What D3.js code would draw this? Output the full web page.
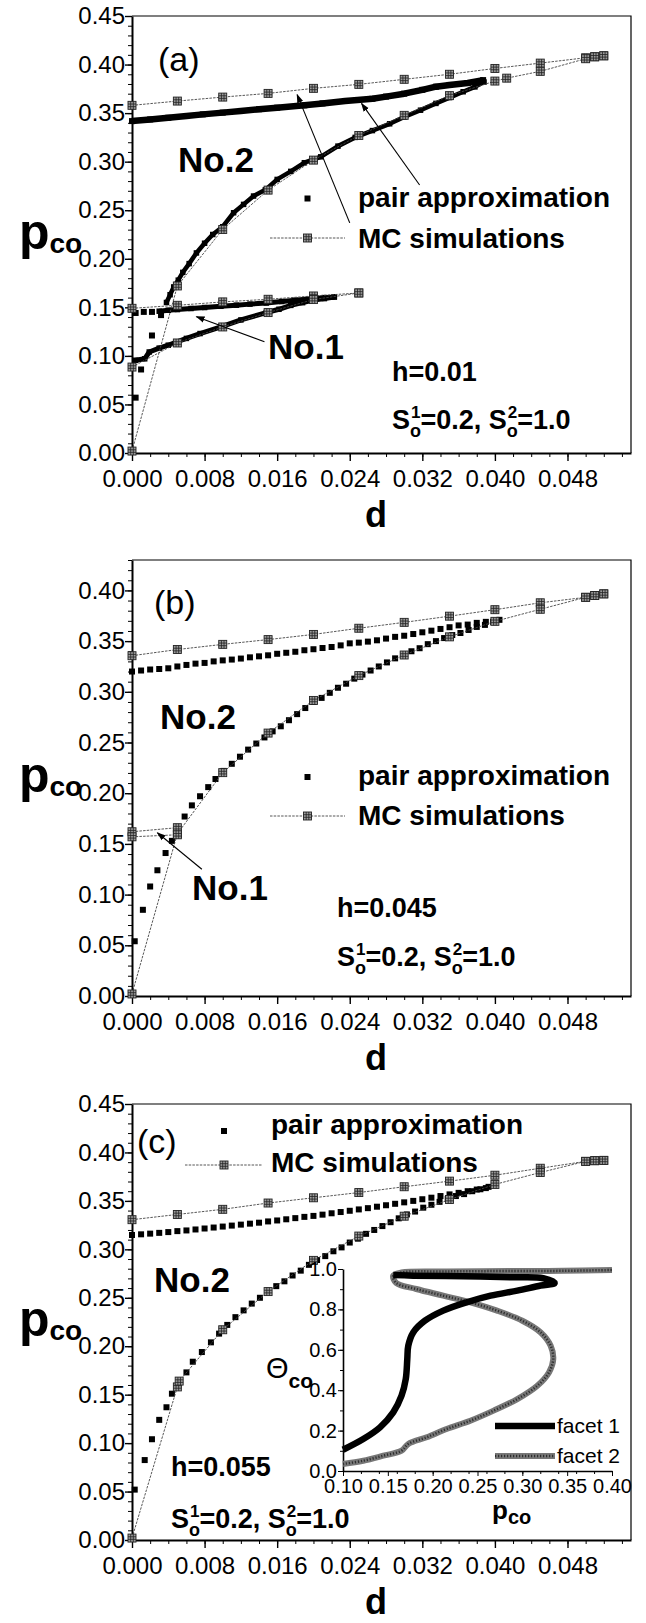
<!DOCTYPE html>
<html>
<head>
<meta charset="utf-8">
<script src="https://cdn.jsdelivr.net/npm/d3@7"></script>
<style>
  body { margin: 0; background: #fff; }
</style>
</head>
<body>
<div id="chart"></div>
<script>
// ---------- data ----------
// x axis (d) and y axis (p_co) tick labels
var dTicks = [0, 0.008, 0.016, 0.024, 0.032, 0.040, 0.048];
var pTicks45 = [0, 0.05, 0.10, 0.15, 0.20, 0.25, 0.30, 0.35, 0.40, 0.45];
var pTicks40 = [0, 0.05, 0.10, 0.15, 0.20, 0.25, 0.30, 0.35, 0.40];

// panel (a), h=0.01
var aMcUpper = [[0,0.358],[0.005,0.3624],[0.010,0.3665],[0.015,0.3703],[0.020,0.3755],[0.025,0.3796],[0.030,0.3848],[0.035,0.390],[0.040,0.396],[0.045,0.4015],[0.050,0.407],[0.051,0.408],[0.052,0.409]];
var aMcLower = [[0,0.002],[0.005,0.172],[0.010,0.2302],[0.015,0.2707],[0.020,0.3016],[0.025,0.327],[0.030,0.3477],[0.035,0.368],[0.040,0.383],[0.0413,0.386],[0.045,0.393],[0.050,0.406],[0.051,0.408],[0.052,0.409]];
var aMcNo1Upper = [[0,0.149],[0.005,0.1521],[0.010,0.1556],[0.015,0.1583],[0.020,0.1617],[0.025,0.1648]];
var aMcNo1Lower = [[0,0.0885],[0.005,0.1133],[0.010,0.1298],[0.015,0.1446],[0.020,0.158],[0.025,0.1648]];
var aPairUpper = [[0,0.3418],[0.002,0.3435],[0.004,0.3452],[0.006,0.347],[0.0078,0.3487],[0.010,0.3505],[0.012,0.3522],[0.014,0.354],[0.016,0.3556],[0.019,0.358],[0.021,0.360],[0.0235,0.3625],[0.0265,0.3648],[0.028,0.367],[0.030,0.370],[0.032,0.374],[0.0335,0.3772],[0.035,0.379],[0.037,0.381],[0.0387,0.384]];
var aPairLower = [[0.0004,0.057],[0.001,0.086],[0.0022,0.121],[0.0032,0.142],[0.0038,0.155],[0.0042,0.163],[0.0046,0.171],[0.0051,0.178],[0.0056,0.186],[0.0063,0.195],[0.0071,0.206],[0.008,0.216],[0.0089,0.225],[0.010,0.233],[0.0112,0.2474],[0.0123,0.256],[0.0134,0.2646],[0.0147,0.271],[0.016,0.2817],[0.0175,0.290],[0.019,0.2989],[0.0208,0.305],[0.0227,0.316],[0.0246,0.325],[0.0265,0.332],[0.0284,0.339],[0.030,0.346],[0.0318,0.353],[0.0335,0.360],[0.035,0.366],[0.0365,0.372],[0.0378,0.377],[0.0388,0.382]];
var aPairNo1Upper = [[0.0004,0.1442],[0.0013,0.1453],[0.0022,0.1453],[0.003,0.146],[0.004,0.147],[0.005,0.1477],[0.0065,0.1488],[0.008,0.1498],[0.0098,0.1511],[0.0115,0.1522],[0.013,0.1533],[0.0148,0.1545],[0.0165,0.156],[0.018,0.1573],[0.0199,0.159],[0.0212,0.160],[0.0223,0.1607]];
var aPairNo1Lower = [[0.0004,0.0955],[0.0014,0.097],[0.0019,0.104],[0.003,0.108],[0.004,0.111],[0.0049,0.1143],[0.006,0.118],[0.0075,0.123],[0.0098,0.130],[0.012,0.137],[0.0148,0.1446],[0.0162,0.148],[0.0175,0.152],[0.0188,0.1548],[0.0199,0.1573],[0.0212,0.159],[0.0223,0.1607]];
var aArrows = [[[0.024,0.237],[0.0182,0.369]],[[0.0317,0.276],[0.0253,0.360]],[[0.0146,0.1146],[0.0071,0.1404]]];

// panel (b), h=0.045
var bMcUpper = [[0,0.3356],[0.005,0.3417],[0.010,0.3468],[0.015,0.3515],[0.020,0.3566],[0.025,0.3627],[0.030,0.3685],[0.035,0.3746],[0.040,0.381],[0.045,0.3878],[0.050,0.3932],[0.051,0.395],[0.052,0.3966]];
var bMcLower = [[0,0.002],[0.005,0.160],[0.010,0.2203],[0.015,0.2593],[0.020,0.2915],[0.025,0.316],[0.030,0.3363],[0.035,0.3542],[0.040,0.3695],[0.045,0.3814],[0.050,0.3932],[0.051,0.395],[0.052,0.3966]];
var bMcNo1Upper = [[0,0.162],[0.005,0.166]];
var bMcNo1Lower = [[0,0.157],[0.005,0.159]];
var bPairUpper = [[0,0.320],[0.001,0.321],[0.002,0.322],[0.003,0.3225],[0.004,0.3232],[0.005,0.325],[0.006,0.3265],[0.007,0.3278],[0.008,0.3285],[0.009,0.330],[0.010,0.331],[0.011,0.3318],[0.012,0.3328],[0.013,0.334],[0.014,0.335],[0.015,0.336],[0.016,0.3375],[0.017,0.3385],[0.018,0.3395],[0.019,0.341],[0.020,0.342],[0.021,0.3432],[0.022,0.3442],[0.023,0.3458],[0.024,0.3478],[0.025,0.3485],[0.026,0.3495],[0.027,0.3508],[0.028,0.3525],[0.029,0.3542],[0.030,0.3553],[0.031,0.357],[0.032,0.3587],[0.033,0.3603],[0.034,0.362],[0.035,0.3637],[0.036,0.3655],[0.037,0.3663],[0.038,0.368],[0.039,0.369],[0.040,0.370]];
var bPairLower = [[0.0003,0.054],[0.0012,0.085],[0.002,0.108],[0.0028,0.124],[0.0037,0.141],[0.0044,0.153],[0.005,0.164],[0.0058,0.177],[0.0066,0.188],[0.0075,0.197],[0.0084,0.206],[0.0092,0.214],[0.0101,0.222],[0.011,0.229],[0.0119,0.236],[0.0128,0.243],[0.0137,0.249],[0.0146,0.255],[0.0155,0.261],[0.0164,0.266],[0.0173,0.272],[0.0182,0.278],[0.0191,0.284],[0.020,0.290],[0.0209,0.294],[0.0218,0.299],[0.0227,0.304],[0.0236,0.308],[0.0245,0.313],[0.0254,0.317],[0.0263,0.321],[0.0272,0.325],[0.0281,0.329],[0.029,0.333],[0.0299,0.336],[0.0308,0.340],[0.0317,0.343],[0.0326,0.347],[0.0335,0.350],[0.0344,0.353],[0.0353,0.356],[0.0362,0.358],[0.0371,0.361],[0.038,0.364],[0.0389,0.366],[0.0398,0.369],[0.0405,0.371]];
var bArrows = [[[0.0077,0.125],[0.0028,0.161]]];

// panel (c), h=0.055
var cMcUpper = [[0,0.3306],[0.005,0.336],[0.010,0.3413],[0.015,0.3478],[0.020,0.3532],[0.025,0.3586],[0.030,0.3646],[0.035,0.3704],[0.040,0.3765],[0.045,0.3837],[0.050,0.3908],[0.051,0.3915],[0.052,0.3918]];
var cMcLower = [[0,0.002],[0.005,0.158],[0.0052,0.164],[0.010,0.217],[0.015,0.2564],[0.020,0.2886],[0.025,0.3137],[0.030,0.3342],[0.035,0.3514],[0.040,0.367],[0.045,0.3793],[0.050,0.3908],[0.051,0.3915],[0.052,0.3918]];
var cPairUpper = [[0,0.3148],[0.001,0.3155],[0.002,0.3162],[0.003,0.317],[0.004,0.3178],[0.005,0.3188],[0.006,0.3195],[0.007,0.3205],[0.008,0.3215],[0.009,0.3225],[0.010,0.3235],[0.011,0.3245],[0.012,0.3255],[0.013,0.3265],[0.014,0.3275],[0.015,0.3288],[0.016,0.3298],[0.017,0.331],[0.018,0.3322],[0.019,0.3335],[0.020,0.3345],[0.021,0.3358],[0.022,0.3372],[0.023,0.3385],[0.024,0.3398],[0.025,0.3412],[0.026,0.3425],[0.027,0.344],[0.028,0.3455],[0.029,0.347],[0.030,0.3485],[0.031,0.350],[0.032,0.3517],[0.033,0.3533],[0.034,0.355],[0.035,0.3567],[0.036,0.3583],[0.037,0.360],[0.038,0.3617],[0.039,0.3632]];
var cPairLower = [[0.0003,0.052],[0.0014,0.0825],[0.0022,0.104],[0.003,0.124],[0.0038,0.137],[0.0044,0.151],[0.0051,0.160],[0.006,0.173],[0.0067,0.184],[0.0077,0.194],[0.0087,0.204],[0.0096,0.213],[0.0105,0.222],[0.0114,0.230],[0.0123,0.237],[0.0132,0.244],[0.0141,0.250],[0.015,0.256],[0.0159,0.262],[0.0168,0.267],[0.0177,0.273],[0.0186,0.278],[0.0195,0.284],[0.0204,0.289],[0.0213,0.293],[0.0222,0.298],[0.0231,0.302],[0.024,0.307],[0.0249,0.311],[0.0258,0.316],[0.0267,0.320],[0.0276,0.324],[0.0285,0.328],[0.0294,0.332],[0.0303,0.336],[0.0312,0.339],[0.0321,0.343],[0.033,0.346],[0.0339,0.349],[0.0348,0.352],[0.0357,0.355],[0.0366,0.357],[0.0375,0.360],[0.0384,0.362],[0.0393,0.3645]];

// inset of (c): theta_co vs p_co
var insetPTicks = [0.10, 0.15, 0.20, 0.25, 0.30, 0.35, 0.40];
var insetThetaTicks = [0, 0.2, 0.4, 0.6, 0.8, 1.0];
var facet1 = [[0.100,0.105],[0.1226,0.158],[0.1413,0.216],[0.156,0.290],[0.1653,0.373],[0.170,0.455],[0.1717,0.554],[0.1728,0.620],[0.1783,0.686],[0.1914,0.744],[0.2118,0.794],[0.2378,0.835],[0.2646,0.868],[0.2944,0.893],[0.3205,0.918],[0.336,0.930],[0.3233,0.954],[0.290,0.959],[0.2344,0.964],[0.1783,0.967],[0.156,0.970]];
var facet2 = [[0.100,0.035],[0.1226,0.051],[0.1449,0.0757],[0.1653,0.1005],[0.1728,0.134],[0.1933,0.167],[0.2155,0.208],[0.242,0.249],[0.268,0.299],[0.2944,0.356],[0.3167,0.422],[0.3297,0.488],[0.3345,0.554],[0.3316,0.620],[0.3205,0.686],[0.300,0.744],[0.2718,0.794],[0.242,0.835],[0.2118,0.868],[0.1817,0.901],[0.1594,0.931],[0.156,0.967],[0.1653,0.983],[0.2155,0.988],[0.290,0.990],[0.3455,0.991],[0.400,0.995]];

// ---------- layout ----------
var FONT = "'Liberation Sans', Arial, Helvetica, sans-serif";
var W = 646, H = 1623;
var LEFT = 132, RIGHT = 631, D_MAX = 0.055;

var svg = d3.select("#chart").append("svg")
    .attr("width", W)
    .attr("height", H)
    .style("background", "#fff")
    .style("font-family", FONT);

svg.append("defs").append("marker")
    .attr("id", "arrow")
    .attr("viewBox", "0 0 10 10")
    .attr("refX", 9).attr("refY", 5)
    .attr("markerWidth", 9).attr("markerHeight", 9)
    .attr("markerUnits", "userSpaceOnUse")
    .attr("orient", "auto")
    .append("path").attr("d", "M0,1.5L10,5L0,8.5z").attr("fill", "#000");

// text with sub/superscripts: parts = [text, size, baselineShift, dx, weight]
function richText(g, x, y, parts) {
    var t = g.append("text").attr("x", x).attr("y", y).attr("fill", "#000");
    var cur = 0;
    parts.forEach(function(p) {
        t.append("tspan")
            .attr("dy", p[2] - cur)
            .attr("dx", p[3] || 0)
            .attr("font-size", p[1])
            .attr("font-weight", p[4] || "bold")
            .text(p[0]);
        cur = p[2];
    });
    return t;
}

function sLine(g, x, y) {
    richText(g, x, y, [["S",27,0],["o",18,8],["1",17,-11,-10],["=0.2, S",27,0],["o",18,8],["2",17,-11,-10],["=1.0",27,0]]);
}

function mcMarks(g, data, x, y) {
    var m = g.append("g").selectAll("g").data(data).enter().append("g")
        .attr("transform", d => `translate(${x(d[0])},${y(d[1])})`);
    m.append("rect").attr("x", -4).attr("y", -4).attr("width", 8).attr("height", 8)
        .attr("fill", "#9c9c9c").attr("stroke", "#222").attr("stroke-width", 0.9);
    m.append("path").attr("d", "M-4,-1.3H4M-4,1.3H4M-1.3,-4V4M1.3,-4V4")
        .attr("stroke", "#222").attr("stroke-width", 0.8);
}

function mcSeries(g, data, x, y) {
    var line = d3.line().x(d => x(d[0])).y(d => y(d[1]));
    g.append("path").datum(data).attr("d", line)
        .attr("fill", "none").attr("stroke", "#444").attr("stroke-width", 0.9)
        .attr("stroke-dasharray", "2.5,1.2");
    mcMarks(g, data, x, y);
}

function pairSeries(g, data, x, y, size, dense) {
    if (dense) {
        var line = d3.line().x(d => x(d[0])).y(d => y(d[1]));
        g.append("path").datum(data).attr("d", line)
            .attr("fill", "none").attr("stroke", "#000").attr("stroke-width", dense)
            .attr("stroke-linejoin", "round");
    }
    g.append("g").selectAll("rect").data(data).enter().append("rect")
        .attr("x", d => x(d[0]) - size / 2)
        .attr("y", d => y(d[1]) - size / 2)
        .attr("width", size).attr("height", size)
        .attr("fill", "#000");
}

function drawPanel(cfg) {
    var x = d3.scaleLinear().domain([0, D_MAX]).range([LEFT, RIGHT]);
    var y = d3.scaleLinear().domain([0, cfg.yMax]).range([cfg.bottom, cfg.top]);
    var g = svg.append("g");

    // minor ticks
    g.append("g").attr("transform", `translate(0,${cfg.bottom})`)
        .call(d3.axisBottom(x).ticks(28).tickSize(4).tickFormat(""))
        .call(s => s.select(".domain").remove());
    g.append("g").attr("transform", `translate(${LEFT},0)`)
        .call(d3.axisLeft(y).ticks(Math.round(cfg.yMax * 100)).tickSize(4).tickFormat(""))
        .call(s => s.select(".domain").remove());

    // major ticks + labels
    var xa = g.append("g").attr("transform", `translate(0,${cfg.bottom})`)
        .call(d3.axisBottom(x).tickValues(dTicks).tickFormat(d3.format(".3f"))
            .tickSize(8).tickSizeOuter(0).tickPadding(9));
    var ya = g.append("g").attr("transform", `translate(${LEFT},0)`)
        .call(d3.axisLeft(y).tickValues(cfg.yTicks).tickFormat(d3.format(".2f"))
            .tickSize(7).tickSizeOuter(0).tickPadding(0));
    [xa, ya].forEach(a => {
        a.selectAll("text").attr("font-size", 24).attr("font-family", FONT).attr("fill", "#000");
        a.select(".domain").attr("stroke-width", 2);
        a.selectAll(".tick line").attr("stroke-width", 1.4);
    });
    g.selectAll(".tick line").attr("stroke", "#000");

    // frame (top and right)
    g.append("path").attr("d", `M${LEFT},${cfg.top}H${RIGHT}V${cfg.bottom}`)
        .attr("fill", "none").attr("stroke", "#000").attr("stroke-width", 1.2);

    // axis titles
    g.append("text").attr("x", 376).attr("y", cfg.bottom + 74)
        .attr("text-anchor", "middle").attr("font-size", 36).attr("font-weight", "bold").text("d");
    richText(g, 19, (cfg.top + cfg.bottom) / 2 + 14, [["p",50,0],["co",28,4]]);

    cfg.draw(g, x, y);
}

function arrows(g, list, x, y) {
    list.forEach(a => {
        g.append("line").attr("x1", x(a[0][0])).attr("y1", y(a[0][1]))
            .attr("x2", x(a[1][0])).attr("y2", y(a[1][1]))
            .attr("stroke", "#000").attr("stroke-width", 1.1).attr("marker-end", "url(#arrow)");
    });
}

function legend(g, xMark, yPair, yMc, xLine0, xLine1, xText, basePair, baseMc) {
    g.append("rect").attr("x", xMark - 3).attr("y", yPair - 3).attr("width", 6).attr("height", 6).attr("fill", "#000");
    g.append("text").attr("x", xText).attr("y", basePair).attr("font-size", 28).attr("font-weight", "bold").text("pair approximation");
    g.append("line").attr("x1", xLine0).attr("x2", xLine1).attr("y1", yMc).attr("y2", yMc)
        .attr("stroke", "#444").attr("stroke-width", 0.9).attr("stroke-dasharray", "2.5,1.2");
    mcMarks(g, [[0, 0]], () => xMark, () => yMc);
    g.append("text").attr("x", xText).attr("y", baseMc).attr("font-size", 28).attr("font-weight", "bold").text("MC simulations");
}

// ---------- panel (a) ----------
drawPanel({
    top: 16, bottom: 453, yMax: 0.45, yTicks: pTicks45,
    draw: function(g, x, y) {
        pairSeries(g, aPairUpper, x, y, 6, 6.5);
        pairSeries(g, aPairLower.slice(0, 4), x, y, 6, 0);
        pairSeries(g, aPairLower.slice(4), x, y, 5.5, 4.5);
        pairSeries(g, aPairNo1Upper.slice(0, 3), x, y, 6, 0);
        pairSeries(g, aPairNo1Upper.slice(3), x, y, 5.5, 5);
        pairSeries(g, aPairNo1Lower, x, y, 5.5, 5);
        mcSeries(g, aMcUpper, x, y);
        mcSeries(g, aMcLower, x, y);
        mcSeries(g, aMcNo1Upper, x, y);
        mcSeries(g, aMcNo1Lower, x, y);
        arrows(g, aArrows, x, y);
        g.append("text").attr("x", 158).attr("y", 71).attr("font-size", 34).text("(a)");
        g.append("text").attr("x", 178).attr("y", 172).attr("font-size", 35).attr("font-weight", "bold").text("No.2");
        g.append("text").attr("x", 268).attr("y", 359).attr("font-size", 35).attr("font-weight", "bold").text("No.1");
        legend(g, 307.5, 198.5, 238, 270, 345, 358, 207, 248);
        g.append("text").attr("x", 392).attr("y", 381).attr("font-size", 27).attr("font-weight", "bold").text("h=0.01");
        sLine(g, 392, 429);
    }
});

// ---------- panel (b) ----------
drawPanel({
    top: 560, bottom: 996, yMax: 0.43, yTicks: pTicks40,
    draw: function(g, x, y) {
        pairSeries(g, bPairUpper, x, y, 6, 0);
        pairSeries(g, bPairLower, x, y, 6, 0);
        mcSeries(g, bMcUpper, x, y);
        mcSeries(g, bMcLower, x, y);
        mcSeries(g, bMcNo1Upper, x, y);
        mcSeries(g, bMcNo1Lower, x, y);
        arrows(g, bArrows, x, y);
        g.append("text").attr("x", 154).attr("y", 614).attr("font-size", 34).text("(b)");
        g.append("text").attr("x", 160).attr("y", 729).attr("font-size", 35).attr("font-weight", "bold").text("No.2");
        g.append("text").attr("x", 192).attr("y", 900).attr("font-size", 35).attr("font-weight", "bold").text("No.1");
        legend(g, 307.5, 777, 816, 270, 345, 358, 785, 825);
        g.append("text").attr("x", 337).attr("y", 917).attr("font-size", 27).attr("font-weight", "bold").text("h=0.045");
        sLine(g, 337, 966);
    }
});

// ---------- panel (c) ----------
drawPanel({
    top: 1104, bottom: 1540, yMax: 0.45, yTicks: pTicks45,
    draw: function(g, x, y) {
        pairSeries(g, cPairUpper, x, y, 6, 0);
        pairSeries(g, cPairLower, x, y, 6, 0);
        mcSeries(g, cMcUpper, x, y);
        mcSeries(g, cMcLower, x, y);
        g.append("text").attr("x", 137).attr("y", 1153).attr("font-size", 34).text("(c)");
        g.append("text").attr("x", 154).attr("y", 1292).attr("font-size", 35).attr("font-weight", "bold").text("No.2");
        legend(g, 224, 1131, 1165, 185, 262, 271, 1134, 1172);
        g.append("text").attr("x", 171).attr("y", 1476).attr("font-size", 27).attr("font-weight", "bold").text("h=0.055");
        sLine(g, 171, 1528);
        drawInset(g);
    }
});

// ---------- inset ----------
function drawInset(g) {
    var ix = d3.scaleLinear().domain([0.10, 0.40]).range([343, 612]);
    var iy = d3.scaleLinear().domain([0, 1]).range([1471, 1269]);
    var ig = g.append("g");

    ig.append("g").attr("transform", "translate(0,1471)")
        .call(d3.axisBottom(ix).ticks(12).tickSize(3).tickFormat(""))
        .call(s => s.select(".domain").remove());
    ig.append("g").attr("transform", "translate(343,0)")
        .call(d3.axisLeft(iy).ticks(10).tickSize(3).tickFormat(""))
        .call(s => s.select(".domain").remove());
    var xa = ig.append("g").attr("transform", "translate(0,1471)")
        .call(d3.axisBottom(ix).tickValues(insetPTicks).tickFormat(d3.format(".2f"))
            .tickSize(5).tickSizeOuter(0).tickPadding(3));
    var ya = ig.append("g").attr("transform", "translate(343,0)")
        .call(d3.axisLeft(iy).tickValues(insetThetaTicks).tickFormat(d3.format(".1f"))
            .tickSize(5).tickSizeOuter(0).tickPadding(1));
    [xa, ya].forEach(a => {
        a.selectAll("text").attr("font-size", 20).attr("font-family", FONT).attr("fill", "#000");
        a.select(".domain").attr("stroke-width", 1.6);
    });

    var line = d3.line().x(d => ix(d[0])).y(d => iy(d[1])).curve(d3.curveCatmullRom);
    ig.append("path").datum(facet2).attr("d", line)
        .attr("fill", "none").attr("stroke", "#777").attr("stroke-width", 6);
    ig.append("path").datum(facet2).attr("d", line)
        .attr("fill", "none").attr("stroke", "#2e2e2e").attr("stroke-width", 2.5)
        .attr("stroke-dasharray", "1.2,1.8");
    ig.append("path").datum(facet1).attr("d", line)
        .attr("fill", "none").attr("stroke", "#000").attr("stroke-width", 6.5);

    // legend
    ig.append("line").attr("x1", 495).attr("x2", 555).attr("y1", 1426).attr("y2", 1426)
        .attr("stroke", "#000").attr("stroke-width", 6.5);
    ig.append("text").attr("x", 557).attr("y", 1433).attr("font-size", 21).text("facet 1");
    ig.append("line").attr("x1", 495).attr("x2", 555).attr("y1", 1456).attr("y2", 1456)
        .attr("stroke", "#777").attr("stroke-width", 6);
    ig.append("line").attr("x1", 495).attr("x2", 555).attr("y1", 1456).attr("y2", 1456)
        .attr("stroke", "#2e2e2e").attr("stroke-width", 2.5).attr("stroke-dasharray", "1.2,1.8");
    ig.append("text").attr("x", 557).attr("y", 1463).attr("font-size", 21).text("facet 2");

    richText(ig, 266, 1378, [["\u0398",29,0,0,"normal"],["co",21,10]]);
    richText(ig, 492, 1519, [["p",26,0],["co",20,5]]);
}
</script>
</body>
</html>
